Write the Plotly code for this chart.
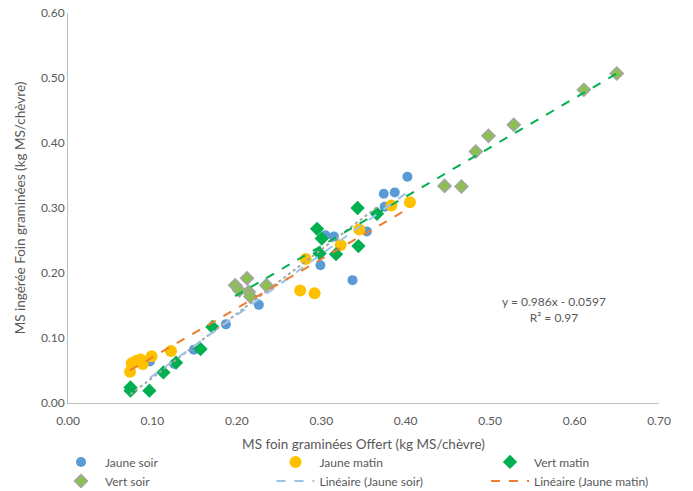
import numpy as np
import plotly.graph_objects as go

# ---- data ----
js_x = [0.097, 0.126, 0.149, 0.187, 0.226, 0.299, 0.305, 0.315, 0.337, 0.354, 0.374, 0.387, 0.375, 0.402]
js_y = [0.064, 0.060, 0.082, 0.121, 0.151, 0.212, 0.258, 0.256, 0.189, 0.264, 0.322, 0.324, 0.302, 0.348]

jm_x = [0.0735, 0.0755, 0.081, 0.086, 0.0885, 0.099, 0.122, 0.275, 0.292, 0.2816, 0.323, 0.345, 0.383, 0.405]
jm_y = [0.048, 0.061, 0.065, 0.067, 0.060, 0.072, 0.080, 0.173, 0.169, 0.2215, 0.243, 0.267, 0.304, 0.309]

vm_x = [0.074, 0.074, 0.0964, 0.113, 0.128, 0.157, 0.171, 0.295, 0.3006, 0.298, 0.3175, 0.343, 0.344, 0.366]
vm_y = [0.024, 0.019, 0.019, 0.047, 0.062, 0.083, 0.117, 0.268, 0.253, 0.230, 0.229, 0.300, 0.2415, 0.291]

vs_x = [0.198, 0.203, 0.212, 0.214, 0.216, 0.235, 0.446, 0.466, 0.483, 0.498, 0.528, 0.611, 0.650]
vs_y = [0.181, 0.173, 0.192, 0.171, 0.164, 0.181, 0.334, 0.333, 0.387, 0.411, 0.428, 0.482, 0.507]

x_ticks = [0.0, 0.1, 0.2, 0.3, 0.4, 0.5, 0.6, 0.7]
y_ticks = [0.0, 0.1, 0.2, 0.3, 0.4, 0.5, 0.6]

eq_slope = 0.986
eq_intercept = -0.0597
eq_r2 = 0.97

FONT = "Lato"
TXT = "#595959"

fig = go.Figure()

fig.add_trace(go.Scatter(x=js_x, y=js_y, mode="markers", name="Jaune soir",
                         marker=dict(symbol="circle", size=10, color="#5B9BD5")))
fig.add_trace(go.Scatter(x=jm_x, y=jm_y, mode="markers", name="Jaune matin",
                         marker=dict(symbol="circle", size=12, color="#FFC000")))
fig.add_trace(go.Scatter(x=vm_x, y=vm_y, mode="markers", name="Vert matin",
                         marker=dict(symbol="diamond", size=11, color="#00B050")))
fig.add_trace(go.Scatter(x=vs_x, y=vs_y, mode="markers", name="Vert soir",
                         marker=dict(symbol="diamond", size=10, color="#8CC152",
                                     line=dict(color="#A5A5A5", width=1.5))))


def fit_line(xs, ys):
    xs = np.asarray(xs)
    ys = np.asarray(ys)
    a, b = np.polyfit(xs, ys, 1)
    xx = np.array([xs.min(), xs.max()])
    return xx, a * xx + b


# trendlines
xx_vm = np.array([min(vm_x), max(vm_x)])
fig.add_trace(go.Scatter(x=xx_vm, y=eq_slope * xx_vm + eq_intercept, mode="lines",
                         showlegend=False, line=dict(color="#A5A5A5", width=2, dash="dot")))
xx, yy = fit_line(vs_x, vs_y)
fig.add_trace(go.Scatter(x=xx, y=yy, mode="lines", showlegend=False,
                         line=dict(color="#00B050", width=2, dash="dash")))
xx, yy = fit_line(js_x, js_y)
fig.add_trace(go.Scatter(x=xx, y=yy, mode="lines", name="Linéaire (Jaune soir)",
                         line=dict(color="#9DC3E6", width=2, dash="dash")))
xx, yy = fit_line(jm_x, jm_y)
fig.add_trace(go.Scatter(x=xx, y=yy, mode="lines", name="Linéaire (Jaune matin)",
                         line=dict(color="#ED7D31", width=2, dash="dash")))

fig.add_annotation(x=0.5757, y=0.1438, xref="x", yref="y", showarrow=False,
                   text=f"y = {eq_slope}x - {abs(eq_intercept)}<br>R² = {eq_r2}",
                   font=dict(family=FONT, size=12, color=TXT), align="center")

fig.update_layout(
    width=693, height=491,
    margin=dict(l=68, r=34, t=13, b=88, autoexpand=False),
    paper_bgcolor="white", plot_bgcolor="white",
    font=dict(family=FONT, size=12, color=TXT),
    xaxis=dict(range=[0, 0.7], tickvals=x_ticks, tickformat=".2f",
               showgrid=False, zeroline=False, showline=True, linecolor="#BFBFBF",
               linewidth=1, ticks="", ticklabelstandoff=7, automargin=False,
               tickfont=dict(size=12, color=TXT),
               title=dict(text="MS foin graminées Offert (kg MS/chèvre)",
                          font=dict(size=13.5, color=TXT), standoff=12)),
    yaxis=dict(range=[0, 0.6], tickvals=y_ticks, tickformat=".2f",
               showgrid=False, zeroline=False, showline=True, linecolor="#BFBFBF",
               linewidth=1, ticks="", automargin=False,
               tickfont=dict(size=12, color=TXT),
               title=dict(text="MS ingérée Foin graminées (kg MS/chèvre)",
                          font=dict(size=13.5, color=TXT), standoff=12)),
    legend=dict(orientation="h", x=-0.0186, xanchor="left", y=-0.114, yanchor="top",
                entrywidth=161.5, entrywidthmode="pixels", itemwidth=38,
                font=dict(size=12, color=TXT), tracegroupgap=0),
)

fig.write_html("out.html", config={"displayModeBar": False},
               post_script="document.body.style.margin='0';")
